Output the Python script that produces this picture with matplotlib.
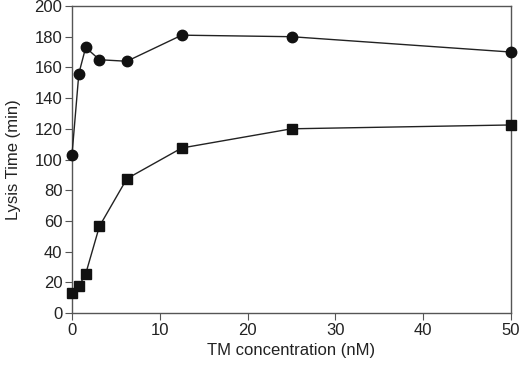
import matplotlib
matplotlib.use('Agg')
import matplotlib.pyplot as plt

plt.rcParams['font.family'] = ['Liberation Sans', 'DejaVu Sans']

conc = [0, 0.78, 1.56, 3.125, 6.25, 12.5, 25, 50]
lysis_circle = [103, 156, 173, 165, 164, 181, 180, 170]
lysis_square = [13, 17.5, 25.5, 56.5, 87.5, 107.5, 120, 122.5]

xticks = [0, 10, 20, 30, 40, 50]
yticks = list(range(0, 201, 20))

fig = plt.figure(figsize=(5.2, 3.66), dpi=100)
ax = fig.add_axes([72 / 520, 53 / 366, 439 / 520, 307 / 366])

ax.plot(conc, lysis_circle, color='#222222', lw=1, marker='o', ms=7.5,
        mfc='#111111', mec='#111111', clip_on=False, zorder=3)
ax.plot(conc, lysis_square, color='#222222', lw=1, marker='s', ms=6.5,
        mfc='#111111', mec='#111111', clip_on=False, zorder=3)

ax.set_xlim(0, 50)
ax.set_ylim(0, 200)
ax.set_xticks(xticks)
ax.set_yticks(yticks)
for s in ax.spines.values():
    s.set_color('#555555')
    s.set_linewidth(1)
ax.tick_params(direction='out', length=5, color='#555555', labelsize=12,
               labelcolor='#222222', pad=2)
ax.set_xlabel('TM concentration (nM)', fontsize=12, color='#222222', labelpad=4)
ax.set_ylabel('Lysis Time (min)', fontsize=12, color='#222222', labelpad=10)

fig.savefig('out.png', dpi=100)
